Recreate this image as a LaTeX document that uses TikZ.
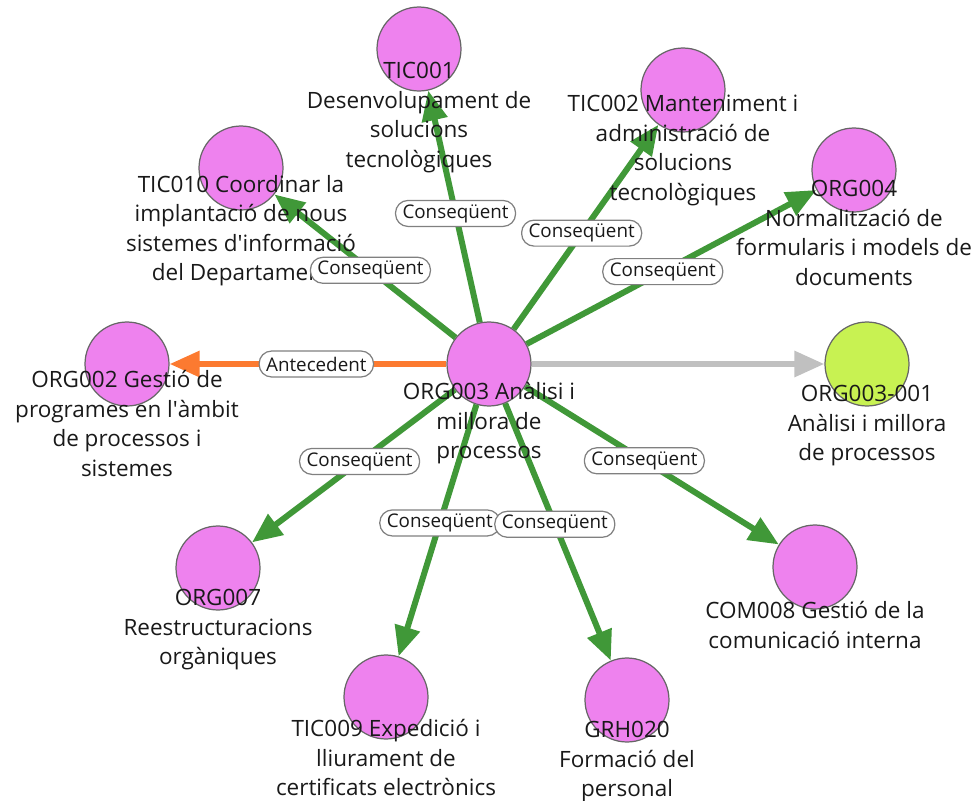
\documentclass[tikz,border=0pt]{standalone}
\usepackage{fontspec}
\setmainfont{Open Sans}
\usetikzlibrary{arrows.meta}
\pgfdeclarelayer{edges}
\pgfdeclarelayer{front}
\pgfsetlayers{edges,main,front}
\definecolor{procpink}{RGB}{238,130,238}
\definecolor{proclime}{RGB}{200,242,82}
\definecolor{consgreen}{RGB}{64,152,56}
\definecolor{anteorange}{RGB}{252,122,48}
\definecolor{samegray}{RGB}{192,192,192}
\tikzset{
  proc/.style={circle, draw=black!60, line width=0.7pt, fill=procpink, minimum size=1.68cm, inner sep=0pt},
  txt/.style={anchor=north, align=center, inner sep=0pt, text=black!90, font=\fontsize{12.8}{16.8}\selectfont},
  link/.style={line width=0.12cm, -{Triangle[length=0.6cm,width=0.5cm]}},
  cons/.style={link, draw=consgreen},
  ante/.style={link, draw=anteorange},
  same/.style={link, draw=samegray},
  tag/.style={pos=0.47, draw=black!50, line width=0.7pt, fill=white, rounded corners=0.25cm, minimum height=0.52cm, inner xsep=0.14cm, inner ysep=0pt, text=black!90, font=\fontsize{10.7}{12}\selectfont},
}
\begin{document}
\begin{tikzpicture}[x={(0.02cm,0cm)}, y={(0cm,-0.02cm)}]
  \useasboundingbox (0,0) rectangle (978,801);

  \node[proc] (org003) at (489,364) {};
  \node[proc] (tic001) at (419,49) {};
  \node[proc] (tic002) at (683,90) {};
  \node[proc] (org004) at (854,170) {};
  \node[proc] (tic010) at (241,168) {};
  \node[proc] (org002) at (127,364) {};
  \node[proc, fill=proclime] (org003b) at (867,364) {};
  \node[proc] (org007) at (218,568) {};
  \node[proc] (tic009) at (386,697) {};
  \node[proc] (grh020) at (627,700) {};
  \node[proc] (com008) at (815,567) {};

  \begin{pgfonlayer}{edges}
    \draw[cons] (org003) -- (tic001);
    \draw[cons] (org003) -- (tic002);
    \draw[cons] (org003) -- (org004);
    \draw[cons] (org003) -- (tic010);
    \draw[ante] (org003) -- (org002);
    \draw[same] (org003) -- (org003b);
    \draw[cons] (org003) -- (org007);
    \draw[cons] (org003) -- (tic009);
    \draw[cons] (org003) -- (grh020);
    \draw[cons] (org003) -- (com008);
  \end{pgfonlayer}

  \begin{pgfonlayer}{front}
    \node[txt] (org003-t) at (489,382) {ORG003 Anàlisi i\\millora de\\processos};
    \node[txt] (tic001-t) at (419,62) {TIC001\\Desenvolupament de\\solucions\\tecnològiques};
    \node[txt] (tic002-t) at (683,95) {TIC002 Manteniment i\\administració de\\solucions\\tecnològiques};
    \node[txt] (org004-t) at (854,180) {ORG004\\Normalització de\\formularis i models de\\documents};
    \node[txt] (tic010-t) at (241,175) {TIC010 Coordinar la\\implantació de nous\\sistemes d\textquotesingle informació\\del Departament};
    \node[txt] (org002-t) at (127,370) {ORG002 Gestió de\\programes en l\textquotesingle àmbit\\de processos i\\sistemes};
    \node[txt] (org003b-t) at (867,385) {ORG003-001\\Anàlisi i millora\\de processos};
    \node[txt] (org007-t) at (218,589) {ORG007\\Reestructuracions\\orgàniques};
    \node[txt] (tic009-t) at (386,719) {TIC009 Expedició i\\lliurament de\\certificats electrònics};
    \node[txt] (grh020-t) at (627,721) {GRH020\\Formació del\\personal};
    \node[txt] (com008-t) at (815,601) {COM008 Gestió de la\\comunicació interna};

    \path (org003) -- node[tag] {Conseqüent} (tic001);
    \path (org003) -- node[tag] {Conseqüent} (tic002);
    \path (org003) -- node[tag] {Conseqüent} (org004);
    \path (org003) -- node[tag] {Conseqüent} (tic010);
    \path (org003) -- node[tag] {Antecedent} (org002);
    \path (org003) -- node[tag] {Conseqüent} (org007);
    \path (org003) -- node[tag] {Conseqüent} (tic009);
    \path (org003) -- node[tag] {Conseqüent} (grh020);
    \path (org003) -- node[tag] {Conseqüent} (com008);
  \end{pgfonlayer}
\end{tikzpicture}
\end{document}
